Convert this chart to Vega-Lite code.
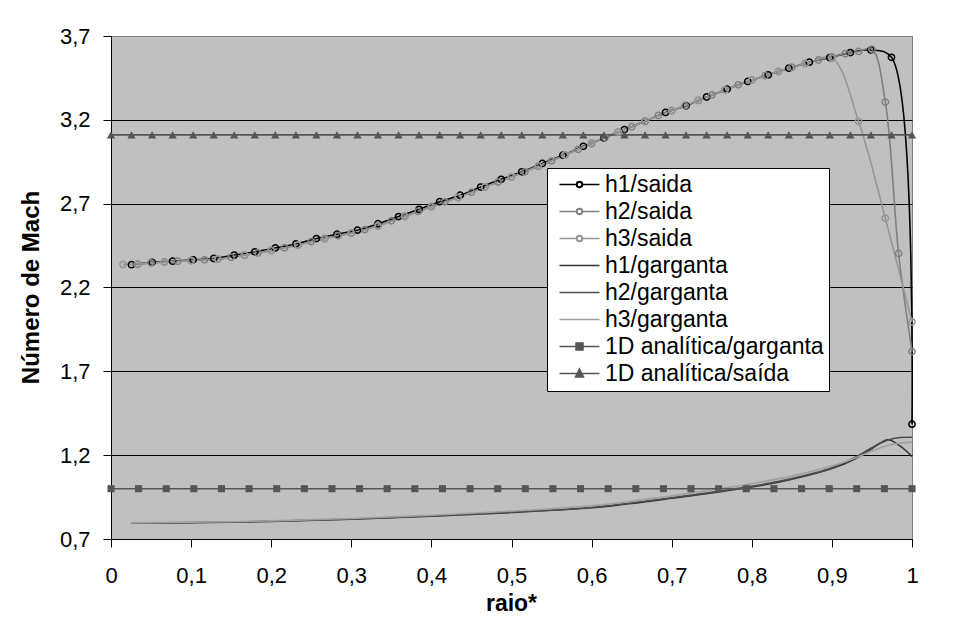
{
  "$schema": "https://vega.github.io/schema/vega-lite/v6.json",
  "autosize": {"type": "none"},
  "padding": {"left": 111, "top": 36, "right": 47, "bottom": 80},
  "width": 801,
  "height": 503,
  "background": "white",
  "config": {
    "view": {"fill": "#C0C0C0", "stroke": "#808080", "strokeWidth": 1},
    "font": "Liberation Sans"
  },
  "data": {"values": [
    {"s":"h1/saida","x":0.0256,"y":2.336},{"s":"h1/saida","x":0.0513,"y":2.350},{"s":"h1/saida","x":0.0769,"y":2.357},{"s":"h1/saida","x":0.1026,"y":2.365},{"s":"h1/saida","x":0.1282,"y":2.373},{"s":"h1/saida","x":0.1538,"y":2.393},{"s":"h1/saida","x":0.1795,"y":2.413},{"s":"h1/saida","x":0.2051,"y":2.436},{"s":"h1/saida","x":0.2308,"y":2.460},{"s":"h1/saida","x":0.2564,"y":2.492},{"s":"h1/saida","x":0.2821,"y":2.518},{"s":"h1/saida","x":0.3077,"y":2.542},{"s":"h1/saida","x":0.3333,"y":2.580},{"s":"h1/saida","x":0.3590,"y":2.623},{"s":"h1/saida","x":0.3846,"y":2.666},{"s":"h1/saida","x":0.4103,"y":2.712},{"s":"h1/saida","x":0.4359,"y":2.750},{"s":"h1/saida","x":0.4615,"y":2.799},{"s":"h1/saida","x":0.4872,"y":2.845},{"s":"h1/saida","x":0.5128,"y":2.890},{"s":"h1/saida","x":0.5385,"y":2.940},{"s":"h1/saida","x":0.5641,"y":2.989},{"s":"h1/saida","x":0.5897,"y":3.042},{"s":"h1/saida","x":0.6154,"y":3.092},{"s":"h1/saida","x":0.6410,"y":3.142},{"s":"h1/saida","x":0.6667,"y":3.191},{"s":"h1/saida","x":0.6923,"y":3.244},{"s":"h1/saida","x":0.7179,"y":3.284},{"s":"h1/saida","x":0.7436,"y":3.336},{"s":"h1/saida","x":0.7692,"y":3.383},{"s":"h1/saida","x":0.7949,"y":3.429},{"s":"h1/saida","x":0.8205,"y":3.468},{"s":"h1/saida","x":0.8462,"y":3.508},{"s":"h1/saida","x":0.8718,"y":3.544},{"s":"h1/saida","x":0.8974,"y":3.571},{"s":"h1/saida","x":0.9231,"y":3.601},{"s":"h1/saida","x":0.9487,"y":3.617},{"s":"h1/saida","x":0.9744,"y":3.573},{"s":"h1/saida","x":1.0,"y":1.385},
    {"s":"h2/saida","x":0.0333,"y":2.338},{"s":"h2/saida","x":0.05,"y":2.347},{"s":"h2/saida","x":0.0667,"y":2.352},{"s":"h2/saida","x":0.0833,"y":2.357},{"s":"h2/saida","x":0.1,"y":2.361},{"s":"h2/saida","x":0.1167,"y":2.365},{"s":"h2/saida","x":0.1333,"y":2.368},{"s":"h2/saida","x":0.15,"y":2.380},{"s":"h2/saida","x":0.1667,"y":2.393},{"s":"h2/saida","x":0.1833,"y":2.406},{"s":"h2/saida","x":0.2,"y":2.421},{"s":"h2/saida","x":0.2167,"y":2.437},{"s":"h2/saida","x":0.2333,"y":2.453},{"s":"h2/saida","x":0.25,"y":2.474},{"s":"h2/saida","x":0.2667,"y":2.493},{"s":"h2/saida","x":0.2833,"y":2.509},{"s":"h2/saida","x":0.3,"y":2.525},{"s":"h2/saida","x":0.3167,"y":2.545},{"s":"h2/saida","x":0.3333,"y":2.570},{"s":"h2/saida","x":0.35,"y":2.598},{"s":"h2/saida","x":0.3667,"y":2.626},{"s":"h2/saida","x":0.3833,"y":2.654},{"s":"h2/saida","x":0.4,"y":2.684},{"s":"h2/saida","x":0.4167,"y":2.711},{"s":"h2/saida","x":0.4333,"y":2.737},{"s":"h2/saida","x":0.45,"y":2.768},{"s":"h2/saida","x":0.4667,"y":2.799},{"s":"h2/saida","x":0.4833,"y":2.829},{"s":"h2/saida","x":0.5,"y":2.859},{"s":"h2/saida","x":0.5167,"y":2.890},{"s":"h2/saida","x":0.5333,"y":2.922},{"s":"h2/saida","x":0.55,"y":2.955},{"s":"h2/saida","x":0.5667,"y":2.989},{"s":"h2/saida","x":0.5833,"y":3.024},{"s":"h2/saida","x":0.6,"y":3.058},{"s":"h2/saida","x":0.6167,"y":3.093},{"s":"h2/saida","x":0.6333,"y":3.127},{"s":"h2/saida","x":0.65,"y":3.159},{"s":"h2/saida","x":0.6667,"y":3.191},{"s":"h2/saida","x":0.6833,"y":3.226},{"s":"h2/saida","x":0.7,"y":3.255},{"s":"h2/saida","x":0.7167,"y":3.284},{"s":"h2/saida","x":0.7333,"y":3.316},{"s":"h2/saida","x":0.75,"y":3.348},{"s":"h2/saida","x":0.7667,"y":3.379},{"s":"h2/saida","x":0.7833,"y":3.409},{"s":"h2/saida","x":0.8,"y":3.438},{"s":"h2/saida","x":0.8167,"y":3.463},{"s":"h2/saida","x":0.8333,"y":3.489},{"s":"h2/saida","x":0.85,"y":3.514},{"s":"h2/saida","x":0.8667,"y":3.537},{"s":"h2/saida","x":0.8833,"y":3.557},{"s":"h2/saida","x":0.9,"y":3.575},{"s":"h2/saida","x":0.9167,"y":3.594},{"s":"h2/saida","x":0.9333,"y":3.608},{"s":"h2/saida","x":0.95,"y":3.621},{"s":"h2/saida","x":0.9667,"y":3.306},{"s":"h2/saida","x":0.9833,"y":2.403},{"s":"h2/saida","x":1.0,"y":1.818},
    {"s":"h3/saida","x":0.015,"y":2.338},{"s":"h3/saida","x":0.0333,"y":2.341},{"s":"h3/saida","x":0.0667,"y":2.350},{"s":"h3/saida","x":0.1,"y":2.360},{"s":"h3/saida","x":0.1333,"y":2.370},{"s":"h3/saida","x":0.1667,"y":2.394},{"s":"h3/saida","x":0.2,"y":2.420},{"s":"h3/saida","x":0.2333,"y":2.452},{"s":"h3/saida","x":0.2667,"y":2.490},{"s":"h3/saida","x":0.3,"y":2.522},{"s":"h3/saida","x":0.3333,"y":2.566},{"s":"h3/saida","x":0.3667,"y":2.622},{"s":"h3/saida","x":0.4,"y":2.680},{"s":"h3/saida","x":0.4333,"y":2.736},{"s":"h3/saida","x":0.4667,"y":2.798},{"s":"h3/saida","x":0.5,"y":2.860},{"s":"h3/saida","x":0.5333,"y":2.924},{"s":"h3/saida","x":0.5667,"y":2.992},{"s":"h3/saida","x":0.6,"y":3.062},{"s":"h3/saida","x":0.6333,"y":3.128},{"s":"h3/saida","x":0.6667,"y":3.192},{"s":"h3/saida","x":0.7,"y":3.256},{"s":"h3/saida","x":0.7333,"y":3.316},{"s":"h3/saida","x":0.7667,"y":3.378},{"s":"h3/saida","x":0.8,"y":3.437},{"s":"h3/saida","x":0.8333,"y":3.488},{"s":"h3/saida","x":0.8667,"y":3.535},{"s":"h3/saida","x":0.9,"y":3.568},{"s":"h3/saida","x":0.9333,"y":3.191},{"s":"h3/saida","x":0.9667,"y":2.613},{"s":"h3/saida","x":1.0,"y":1.995},
    {"s":"h1/garganta","x":0.025,"y":0.795},{"s":"h1/garganta","x":0.1,"y":0.797},{"s":"h1/garganta","x":0.2,"y":0.805},{"s":"h1/garganta","x":0.3,"y":0.818},{"s":"h1/garganta","x":0.4,"y":0.836},{"s":"h1/garganta","x":0.5,"y":0.858},{"s":"h1/garganta","x":0.6,"y":0.886},{"s":"h1/garganta","x":0.65,"y":0.912},{"s":"h1/garganta","x":0.7,"y":0.943},{"s":"h1/garganta","x":0.75,"y":0.975},{"s":"h1/garganta","x":0.8,"y":1.010},{"s":"h1/garganta","x":0.85,"y":1.056},{"s":"h1/garganta","x":0.9,"y":1.120},{"s":"h1/garganta","x":0.93,"y":1.180},{"s":"h1/garganta","x":0.95,"y":1.240},{"s":"h1/garganta","x":0.97,"y":1.292},{"s":"h1/garganta","x":0.985,"y":1.255},{"s":"h1/garganta","x":1.0,"y":1.192},
    {"s":"h2/garganta","x":0.025,"y":0.795},{"s":"h2/garganta","x":0.1,"y":0.798},{"s":"h2/garganta","x":0.2,"y":0.806},{"s":"h2/garganta","x":0.3,"y":0.819},{"s":"h2/garganta","x":0.4,"y":0.837},{"s":"h2/garganta","x":0.5,"y":0.860},{"s":"h2/garganta","x":0.6,"y":0.888},{"s":"h2/garganta","x":0.65,"y":0.915},{"s":"h2/garganta","x":0.7,"y":0.946},{"s":"h2/garganta","x":0.75,"y":0.978},{"s":"h2/garganta","x":0.8,"y":1.014},{"s":"h2/garganta","x":0.85,"y":1.060},{"s":"h2/garganta","x":0.9,"y":1.125},{"s":"h2/garganta","x":0.93,"y":1.190},{"s":"h2/garganta","x":0.95,"y":1.245},{"s":"h2/garganta","x":0.97,"y":1.290},{"s":"h2/garganta","x":0.985,"y":1.305},{"s":"h2/garganta","x":1.0,"y":1.307},
    {"s":"h3/garganta","x":0.025,"y":0.796},{"s":"h3/garganta","x":0.1,"y":0.800},{"s":"h3/garganta","x":0.2,"y":0.808},{"s":"h3/garganta","x":0.3,"y":0.822},{"s":"h3/garganta","x":0.4,"y":0.842},{"s":"h3/garganta","x":0.5,"y":0.866},{"s":"h3/garganta","x":0.6,"y":0.898},{"s":"h3/garganta","x":0.65,"y":0.925},{"s":"h3/garganta","x":0.7,"y":0.957},{"s":"h3/garganta","x":0.75,"y":0.992},{"s":"h3/garganta","x":0.8,"y":1.030},{"s":"h3/garganta","x":0.85,"y":1.075},{"s":"h3/garganta","x":0.9,"y":1.135},{"s":"h3/garganta","x":0.93,"y":1.185},{"s":"h3/garganta","x":0.95,"y":1.225},{"s":"h3/garganta","x":0.97,"y":1.258},{"s":"h3/garganta","x":0.985,"y":1.272},{"s":"h3/garganta","x":1.0,"y":1.278},
    {"s":"1D analítica/garganta","x":0,"y":1.0},{"s":"1D analítica/garganta","x":0.0345,"y":1.0},{"s":"1D analítica/garganta","x":0.069,"y":1.0},{"s":"1D analítica/garganta","x":0.1034,"y":1.0},{"s":"1D analítica/garganta","x":0.1379,"y":1.0},{"s":"1D analítica/garganta","x":0.1724,"y":1.0},{"s":"1D analítica/garganta","x":0.2069,"y":1.0},{"s":"1D analítica/garganta","x":0.2414,"y":1.0},{"s":"1D analítica/garganta","x":0.2759,"y":1.0},{"s":"1D analítica/garganta","x":0.3103,"y":1.0},{"s":"1D analítica/garganta","x":0.3448,"y":1.0},{"s":"1D analítica/garganta","x":0.3793,"y":1.0},{"s":"1D analítica/garganta","x":0.4138,"y":1.0},{"s":"1D analítica/garganta","x":0.4483,"y":1.0},{"s":"1D analítica/garganta","x":0.4828,"y":1.0},{"s":"1D analítica/garganta","x":0.5172,"y":1.0},{"s":"1D analítica/garganta","x":0.5517,"y":1.0},{"s":"1D analítica/garganta","x":0.5862,"y":1.0},{"s":"1D analítica/garganta","x":0.6207,"y":1.0},{"s":"1D analítica/garganta","x":0.6552,"y":1.0},{"s":"1D analítica/garganta","x":0.6897,"y":1.0},{"s":"1D analítica/garganta","x":0.7241,"y":1.0},{"s":"1D analítica/garganta","x":0.7586,"y":1.0},{"s":"1D analítica/garganta","x":0.7931,"y":1.0},{"s":"1D analítica/garganta","x":0.8276,"y":1.0},{"s":"1D analítica/garganta","x":0.8621,"y":1.0},{"s":"1D analítica/garganta","x":0.8966,"y":1.0},{"s":"1D analítica/garganta","x":0.931,"y":1.0},{"s":"1D analítica/garganta","x":0.9655,"y":1.0},{"s":"1D analítica/garganta","x":1.0,"y":1.0},
    {"s":"1D analítica/saída","x":0,"y":3.11},{"s":"1D analítica/saída","x":0.0256,"y":3.11},{"s":"1D analítica/saída","x":0.0513,"y":3.11},{"s":"1D analítica/saída","x":0.0769,"y":3.11},{"s":"1D analítica/saída","x":0.1026,"y":3.11},{"s":"1D analítica/saída","x":0.1282,"y":3.11},{"s":"1D analítica/saída","x":0.1538,"y":3.11},{"s":"1D analítica/saída","x":0.1795,"y":3.11},{"s":"1D analítica/saída","x":0.2051,"y":3.11},{"s":"1D analítica/saída","x":0.2308,"y":3.11},{"s":"1D analítica/saída","x":0.2564,"y":3.11},{"s":"1D analítica/saída","x":0.2821,"y":3.11},{"s":"1D analítica/saída","x":0.3077,"y":3.11},{"s":"1D analítica/saída","x":0.3333,"y":3.11},{"s":"1D analítica/saída","x":0.3590,"y":3.11},{"s":"1D analítica/saída","x":0.3846,"y":3.11},{"s":"1D analítica/saída","x":0.4103,"y":3.11},{"s":"1D analítica/saída","x":0.4359,"y":3.11},{"s":"1D analítica/saída","x":0.4615,"y":3.11},{"s":"1D analítica/saída","x":0.4872,"y":3.11},{"s":"1D analítica/saída","x":0.5128,"y":3.11},{"s":"1D analítica/saída","x":0.5385,"y":3.11},{"s":"1D analítica/saída","x":0.5641,"y":3.11},{"s":"1D analítica/saída","x":0.5897,"y":3.11},{"s":"1D analítica/saída","x":0.6154,"y":3.11},{"s":"1D analítica/saída","x":0.6410,"y":3.11},{"s":"1D analítica/saída","x":0.6667,"y":3.11},{"s":"1D analítica/saída","x":0.6923,"y":3.11},{"s":"1D analítica/saída","x":0.7179,"y":3.11},{"s":"1D analítica/saída","x":0.7436,"y":3.11},{"s":"1D analítica/saída","x":0.7692,"y":3.11},{"s":"1D analítica/saída","x":0.7949,"y":3.11},{"s":"1D analítica/saída","x":0.8205,"y":3.11},{"s":"1D analítica/saída","x":0.8462,"y":3.11},{"s":"1D analítica/saída","x":0.8718,"y":3.11},{"s":"1D analítica/saída","x":0.8974,"y":3.11},{"s":"1D analítica/saída","x":0.9231,"y":3.11},{"s":"1D analítica/saída","x":0.9487,"y":3.11},{"s":"1D analítica/saída","x":0.9744,"y":3.11},{"s":"1D analítica/saída","x":1.0,"y":3.11}
  ]},
  "encoding": {
    "x": {
      "field": "x", "type": "quantitative",
      "scale": {"domain": [0, 1], "nice": false, "zero": false},
      "axis": {
        "title": "raio*", "values": [0,0.1,0.2,0.3,0.4,0.5,0.6,0.7,0.8,0.9,1],
        "labelExpr": "replace(format(datum.value, '.1~f'), '.', ',')",
        "grid": false, "domainColor": "black", "tickColor": "black", "tickSize": 8,
        "labelFont": "Liberation Sans", "labelFontSize": 22, "labelColor": "black", "labelPadding": 18,
        "labelFlush": false, "labelOverlap": false,
        "titleFont": "Liberation Sans", "titleFontSize": 23, "titleFontWeight": "bold", "titleColor": "black",
        "titleX": 400, "titleY": 64, "titleBaseline": "middle", "titleAlign": "center"
      }
    },
    "y": {
      "field": "y", "type": "quantitative",
      "scale": {"domain": [0.7, 3.7], "nice": false, "zero": false},
      "axis": {
        "title": "Número de Mach", "values": [0.7,1.2,1.7,2.2,2.7,3.2,3.7],
        "labelExpr": "replace(format(datum.value, '.1f'), '.', ',')",
        "grid": true, "gridWidth": 1, "gridOpacity": 1,
        "gridColor": {"condition": {"test": "datum.value > 3.65", "value": "#808080"}, "value": "black"},
        "domainColor": "black", "tickColor": "black", "tickSize": 8,
        "labelFont": "Liberation Sans", "labelFontSize": 22, "labelColor": "black", "labelPadding": 13,
        "labelFlush": false, "labelOverlap": false,
        "titleFont": "Liberation Sans", "titleFontSize": 24, "titleFontWeight": "bold", "titleColor": "black",
        "titleX": -80, "titleY": 251, "titleAngle": -90, "titleBaseline": "middle", "titleAlign": "center"
      }
    }
  },
  "layer": [
    {
      "mark": {"type": "line", "interpolate": "catmull-rom", "strokeWidth": 1.6},
      "encoding": {
        "color": {
          "field": "s", "type": "nominal",
          "scale": {
            "domain": ["h1/saida","h2/saida","h3/saida","h1/garganta","h2/garganta","h3/garganta","1D analítica/garganta","1D analítica/saída"],
            "range": ["#000000","#808080","#969696","#333333","#4d4d4d","#a0a0a0","#555555","#555555"]
          },
          "legend": {
            "title": null, "orient": "none", "legendX": 436, "legendY": 132,
            "fillColor": "white", "strokeColor": "black", "padding": 5, "cornerRadius": 0,
            "labelFont": "Liberation Sans", "labelFontSize": 23, "labelColor": "black", "labelLimit": 500,
            "labelOffset": 30, "rowPadding": 3, "symbolSize": 196, "symbolStrokeWidth": 1.5,
            "encode": {
              "symbols": {
                "update": {
                  "shape": {"signal": "indexof(['h1/saida','h2/saida','h3/saida'], datum.value) >= 0 ? 'M-0.571,0H1.856M2.716,0H5.143M1.856,0A0.43,0.43 0 1,1 2.716,0A0.43,0.43 0 1,1 1.856,0ZM1.926,0A0.36,0.36 0 1,0 2.646,0A0.36,0.36 0 1,0 1.926,0Z' : datum.value === '1D analítica/garganta' ? 'M-0.571,0H5.143M1.786,-0.5H2.786V0.5H1.786Z' : datum.value === '1D analítica/saída' ? 'M-0.571,0H5.143M2.286,-0.643L2.858,0.5H1.714Z' : 'M-0.571,0H5.143'"}
                }
              }
            }
          }
        },
        "detail": {"field": "s"}
      }
    },
    {
      "transform": [{"filter": {"field": "s", "oneOf": ["h1/saida","h2/saida","h3/saida"]}}],
      "mark": {"type": "point", "shape": "circle", "filled": false, "size": 40, "strokeWidth": 1.5, "opacity": 1},
      "encoding": {
        "color": {"field": "s", "type": "nominal", "legend": null}
      }
    },
    {
      "transform": [{"filter": {"field": "s", "oneOf": ["1D analítica/garganta","1D analítica/saída"]}}],
      "mark": {"type": "point", "filled": true, "opacity": 1},
      "encoding": {
        "color": {"field": "s", "type": "nominal", "legend": null},
        "shape": {
          "field": "s", "type": "nominal", "legend": null,
          "scale": {"domain": ["1D analítica/garganta","1D analítica/saída"], "range": ["square","triangle-up"]}
        },
        "size": {
          "field": "s", "type": "nominal", "legend": null,
          "scale": {"domain": ["1D analítica/garganta","1D analítica/saída"], "range": [50, 70]}
        }
      }
    }
  ]
}
